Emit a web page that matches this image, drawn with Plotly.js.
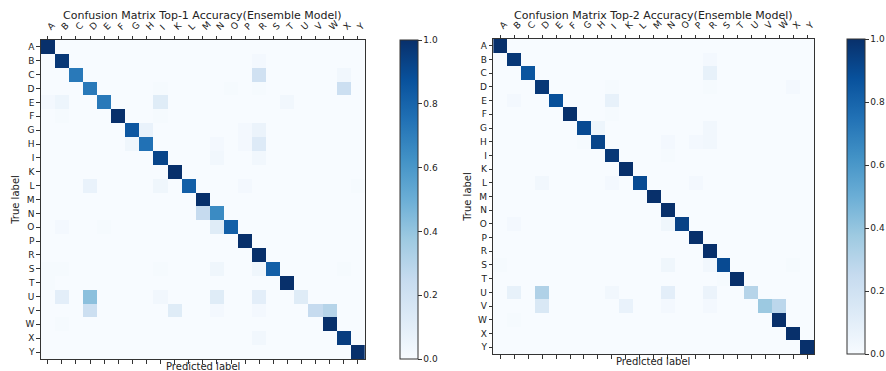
<!DOCTYPE html>
<html><head><meta charset="utf-8">
<script src="https://cdn.plot.ly/plotly-3.0.1.min.js"></script>
<style>html,body{margin:0;padding:0;background:#fff}#c{width:886px;height:371px}</style>
</head><body><div id="c"></div>
<script>
const labels = ["A","B","C","D","E","F","G","H","I","K","L","M","N","O","P","R","S","T","U","V","W","X","Y"];

// Top-1 confusion matrix (rows: true label, cols: predicted label) - sparse entries
const top1Entries = {
  A: {A:1.0},
  B: {B:0.97, R:0.02},
  C: {C:0.72, R:0.20, X:0.03},
  D: {D:0.72, I:0.01, O:0.01, R:0.01, X:0.22},
  E: {A:0.02, B:0.05, E:0.72, I:0.12, T:0.03},
  F: {B:0.01, F:1.0, I:0.01},
  G: {G:0.85, H:0.07, P:0.02, R:0.06},
  H: {G:0.04, H:0.75, N:0.02, P:0.02, R:0.13},
  I: {I:0.92, N:0.03, R:0.03},
  K: {K:1.0},
  L: {D:0.07, I:0.04, L:0.82, P:0.02, Y:0.01},
  M: {M:1.0},
  N: {M:0.25, N:0.65},
  O: {B:0.02, E:0.01, N:0.12, O:0.82},
  P: {P:1.0},
  R: {R:1.0},
  S: {A:0.01, B:0.01, I:0.01, N:0.04, R:0.04, S:0.82, X:0.01},
  T: {A:0.01, T:1.0},
  U: {B:0.10, D:0.42, I:0.03, N:0.12, R:0.10, U:0.12},
  V: {D:0.22, K:0.12, N:0.02, R:0.02, V:0.25, W:0.30},
  W: {B:0.01, W:1.0},
  X: {R:0.03, X:0.95},
  Y: {Y:1.0}
};

// Top-2 confusion matrix
const top2Entries = {
  A: {A:1.0},
  B: {B:0.97, R:0.02},
  C: {C:0.86, R:0.08},
  D: {D:0.97, I:0.01, R:0.01, X:0.02},
  E: {B:0.02, E:0.88, I:0.08},
  F: {F:1.0, I:0.01},
  G: {G:0.90, H:0.05, R:0.03},
  H: {G:0.01, H:0.92, N:0.02, P:0.02, R:0.03},
  I: {I:0.97, N:0.01},
  K: {K:1.0},
  L: {D:0.03, I:0.02, L:0.90, P:0.02},
  M: {M:1.0},
  N: {N:1.0},
  O: {B:0.02, N:0.04, O:0.93},
  P: {P:1.0},
  R: {R:1.0},
  S: {A:0.01, N:0.04, R:0.03, S:0.90, X:0.01},
  T: {S:0.01, T:1.0},
  U: {B:0.08, D:0.32, I:0.03, N:0.10, R:0.06, U:0.30},
  V: {D:0.15, K:0.07, N:0.02, R:0.02, V:0.38, W:0.28},
  W: {B:0.01, W:1.0},
  X: {X:1.0},
  Y: {Y:1.0}
};

const colorbarTicks = [0, 0.2, 0.4, 0.6, 0.8, 1.0];

function toMatrix(entries) {
  return labels.map(r => labels.map(c => (entries[r] && entries[r][c] !== undefined) ? entries[r][c] : 0));
}

const blues = [
  [0.0, '#f7fbff'], [0.125, '#deebf7'], [0.25, '#c6dbef'], [0.375, '#9ecae1'],
  [0.5, '#6baed6'], [0.625, '#4292c6'], [0.75, '#2171b5'], [0.875, '#08519c'], [1.0, '#08306b']
];

const idx = labels.map((_, i) => i);
const W = 886, H = 371;
const font = {family: 'DejaVu Sans', size: 9, color: '#222'};

function cb(xpx, topPx, botPx) {
  return {
    x: xpx / W, xanchor: 'left', xpad: 0, ypad: 0,
    y: (H - botPx) / H, yanchor: 'bottom',
    len: (botPx - topPx) / H, lenmode: 'fraction',
    thickness: 18, outlinewidth: 1, outlinecolor: '#333',
    ticks: 'outside', ticklen: 3.5, tickcolor: '#333',
    tickvals: colorbarTicks, tickformat: '.1f',
    tickfont: {family: 'DejaVu Sans', size: 9, color: '#222'}
  };
}

const traces = [
  {type: 'heatmap', x: idx, y: idx, z: toMatrix(top1Entries), zmin: 0, zmax: 1,
   colorscale: blues, xaxis: 'x', yaxis: 'y', colorbar: cb(402, 40, 359), hoverinfo: 'skip'},
  {type: 'heatmap', x: idx, y: idx, z: toMatrix(top2Entries), zmin: 0, zmax: 1,
   colorscale: blues, xaxis: 'x2', yaxis: 'y2', colorbar: cb(852, 39, 354), hoverinfo: 'skip'}
];

function xBottom(d, anchor) {
  return {domain: d, anchor: anchor, range: [-0.5, 22.5], tickvals: idx, showticklabels: false,
    ticks: 'outside', ticklen: 3.5, tickcolor: '#333', showgrid: false, zeroline: false,
    showline: true, linecolor: '#333', linewidth: 1, mirror: true};
}
function xTop(d, overlay, anchor) {
  return {domain: d, overlaying: overlay, anchor: anchor, side: 'top', range: [-0.5, 22.5],
    tickvals: idx, ticktext: labels, tickangle: -45, ticks: 'outside', ticklen: 3.5, tickcolor: '#333',
    showgrid: false, zeroline: false, showline: false, tickfont: font};
}
function yAx(d, anchor) {
  return {domain: d, anchor: anchor, range: [22.5, -0.5], tickvals: idx, ticktext: labels,
    ticks: 'outside', ticklen: 3.5, tickcolor: '#333', showgrid: false, zeroline: false,
    showline: true, linecolor: '#333', linewidth: 1, mirror: true, tickfont: font,
    title: {text: 'True label', font: {family: 'DejaVu Sans', size: 10, color: '#222'}, standoff: 4}};
}

const d1x = [41 / W, 367 / W], d1y = [(H - 359) / H, (H - 40) / H];
const d2x = [496 / W, 819 / W], d2y = [(H - 354) / H, (H - 39) / H];

function ann(text, xpx, ypx, size) {
  return {text: text, x: xpx / W, y: (H - ypx) / H, xref: 'paper', yref: 'paper', showarrow: false,
    xanchor: 'center', yanchor: 'middle', font: {family: 'DejaVu Sans', size: size, color: '#222'}};
}

const layout = {
  width: W, height: H, margin: {l: 0, r: 0, t: 0, b: 0},
  paper_bgcolor: '#fff', plot_bgcolor: '#fff', showlegend: false,
  xaxis: xBottom(d1x, 'y'),
  yaxis: yAx(d1y, 'x'),
  xaxis2: xBottom(d2x, 'y2'),
  yaxis2: yAx(d2y, 'x2'),
  xaxis3: xTop(d1x, 'x', 'y'),
  xaxis4: xTop(d2x, 'x2', 'y2'),
  annotations: [
    ann('Confusion Matrix Top-1 Accuracy(Ensemble Model)', 204, 15, 11),
    ann('Confusion Matrix Top-2 Accuracy(Ensemble Model)', 657, 15, 11),
    ann('Predicted label', 204, 366, 10),
    ann('Predicted label', 657, 361, 10)
  ]
};

// invisible traces so the top label axes are drawn
traces.push({type: 'scatter', x: [0], y: [0], xaxis: 'x3', yaxis: 'y', mode: 'markers',
  marker: {opacity: 0}, hoverinfo: 'skip', showlegend: false});
traces.push({type: 'scatter', x: [0], y: [0], xaxis: 'x4', yaxis: 'y2', mode: 'markers',
  marker: {opacity: 0}, hoverinfo: 'skip', showlegend: false});

Plotly.newPlot('c', traces, layout, {staticPlot: true, displayModeBar: false});
</script></body></html>
